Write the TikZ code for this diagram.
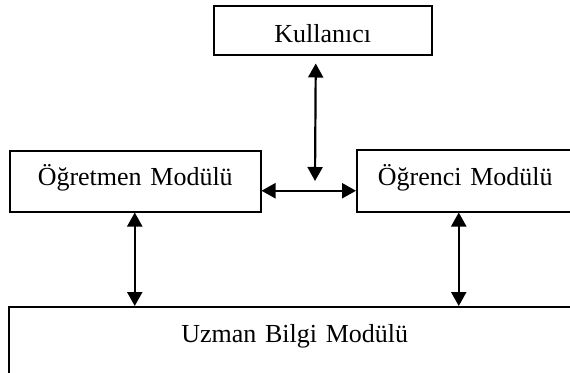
\documentclass[tikz,border=0pt]{standalone}
\usepackage{fontspec}
\setmainfont{Liberation Serif}
\usetikzlibrary{arrows.meta,calc}
\begin{document}
\begin{tikzpicture}[x=1pt,y=-1pt,
  box/.style={draw,line width=1.5pt,inner sep=0pt,align=center,font=\fontsize{26}{30}\selectfont},
  arr/.style={line width=2.2pt,{Triangle[width=15pt,length=14pt]}-{Triangle[width=15pt,length=14pt]}}]
\useasboundingbox (0,0) rectangle (570,372);
\node[box,text width=218pt,text height=37pt,text depth=12pt,anchor=north west] (kul) at (213,5) {Kullanıcı};
\node[box,text width=251pt,text height=35pt,text depth=26pt,anchor=north west] (ogr) at (9,150) {Öğretmen Modülü\hspace*{8pt}};
\node[box,text width=217pt,text height=36pt,text depth=26pt,anchor=north west] (ogc) at (356,149) {Öğrenci Modülü};
\node[box,text width=572pt,text height=36pt,text depth=40pt,anchor=north west] (uzm) at (8,306) {Uzman Bilgi Modülü};
\coordinate (mid) at (315,181);
\draw[arr] ($(kul.south)+(-7pt,-8pt)$) -- (mid);
\draw[arr] ([yshift=-9.5pt]ogr.east) -- ([yshift=-9.5pt]ogr.east -| ogc.west);
\draw[arr] ([xshift=-0.5pt]ogr.south) -- ([xshift=-0.5pt]ogr.south |- uzm.north);
\draw[arr] ([xshift=-6.5pt]ogc.south) -- ([xshift=-6.5pt]ogc.south |- uzm.north);
\end{tikzpicture}
\end{document}
